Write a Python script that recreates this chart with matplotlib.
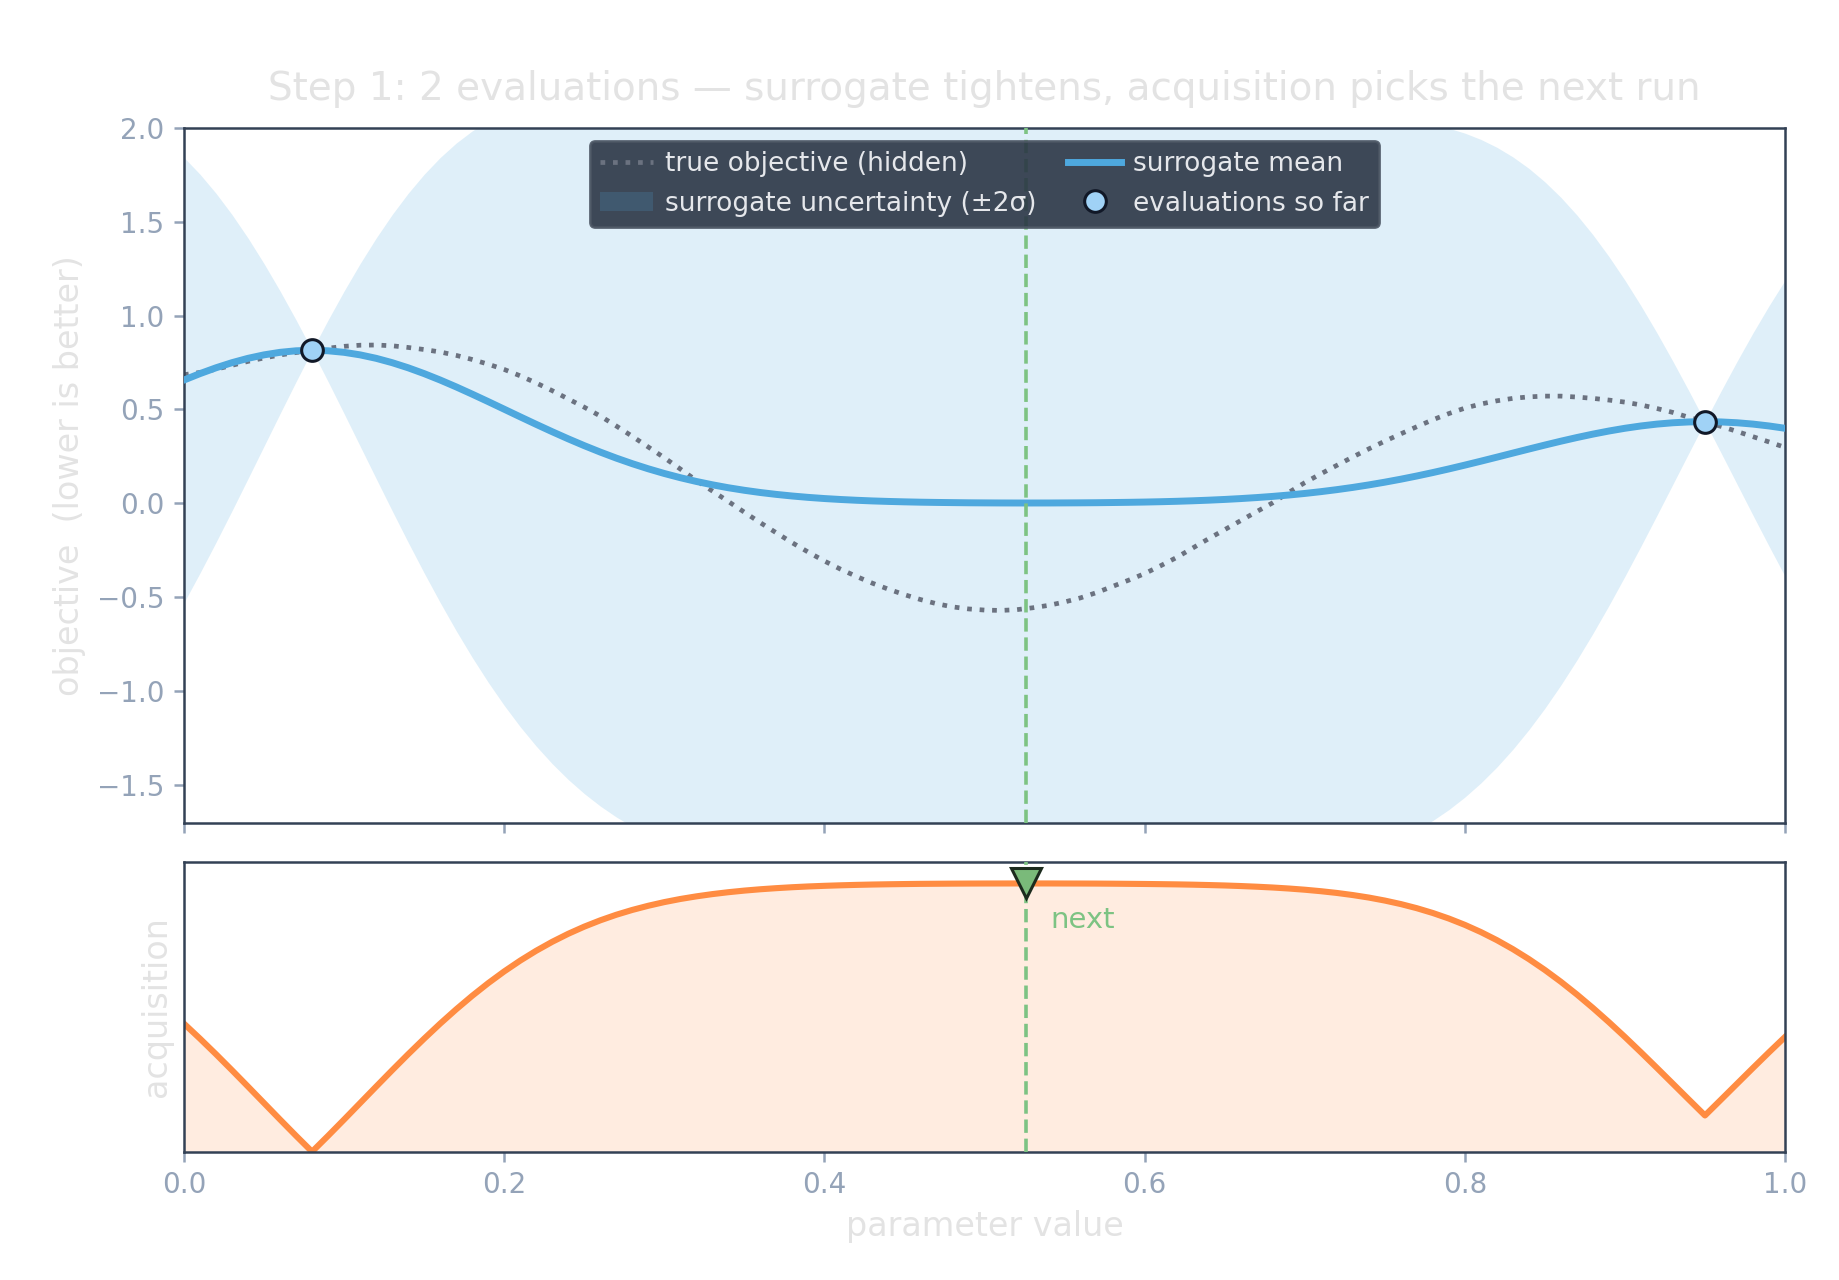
import matplotlib
matplotlib.use("Agg")
import matplotlib.pyplot as plt
import numpy as np

# ---------------- data ----------------
# parameter values (0.00 .. 1.00 in steps of 0.01)
x_grid = [round(0.01 * i, 2) for i in range(101)]

true_objective = [
    0.685, 0.697, 0.714, 0.735, 0.756, 0.774, 0.790, 0.803, 0.815, 0.826,
    0.836, 0.842, 0.843, 0.839, 0.830, 0.819, 0.806, 0.788, 0.766, 0.741,
    0.713, 0.679, 0.641, 0.600, 0.556, 0.512, 0.465, 0.412, 0.357, 0.300,
    0.243, 0.183, 0.122, 0.066, 0.010, -0.047, -0.103, -0.157, -0.210, -0.260,
    -0.307, -0.350, -0.389, -0.425, -0.457, -0.486, -0.512, -0.534, -0.551, -0.562,
    -0.568, -0.570, -0.566, -0.556, -0.543, -0.525, -0.503, -0.475, -0.442, -0.409,
    -0.374, -0.332, -0.288, -0.238, -0.188, -0.140, -0.092, -0.044, 0.003, 0.058,
    0.110, 0.157, 0.202, 0.247, 0.290, 0.331, 0.370, 0.408, 0.445, 0.478,
    0.507, 0.529, 0.546, 0.559, 0.567, 0.571, 0.571, 0.566, 0.559, 0.550,
    0.539, 0.524, 0.505, 0.484, 0.458, 0.433, 0.410, 0.383, 0.355, 0.327,
    0.298]

surrogate_mean = [
    0.6567, 0.6908, 0.7218, 0.7491, 0.7722, 0.7906, 0.8041, 0.8123, 0.8150, 0.8123,
    0.8041, 0.7906, 0.7722, 0.7491, 0.7218, 0.6908, 0.6567, 0.6201, 0.5815, 0.5418,
    0.5013, 0.4607, 0.4206, 0.3814, 0.3435, 0.3073, 0.2731, 0.2410, 0.2113, 0.1840,
    0.1591, 0.1367, 0.1167, 0.0989, 0.0832, 0.0696, 0.0578, 0.0477, 0.0391, 0.0318,
    0.0257, 0.0207, 0.0165, 0.0130, 0.0103, 0.0081, 0.0063, 0.0050, 0.0040, 0.0031,
    0.0026, 0.0022, 0.0020, 0.0020, 0.0021, 0.0025, 0.0029, 0.0035, 0.0045, 0.0056,
    0.0070, 0.0088, 0.0110, 0.0137, 0.0170, 0.0209, 0.0255, 0.0309, 0.0371, 0.0444,
    0.0528, 0.0623, 0.0730, 0.0849, 0.0982, 0.1128, 0.1286, 0.1457, 0.1640, 0.1833,
    0.2036, 0.2245, 0.2459, 0.2676, 0.2892, 0.3104, 0.3310, 0.3505, 0.3687, 0.3852,
    0.3998, 0.4121, 0.4220, 0.4292, 0.4335, 0.4350, 0.4335, 0.4292, 0.4220, 0.4121,
    0.3998]

# half-width of the shaded uncertainty band (2 sigma)
band_halfwidth = [
    1.1845, 1.0613, 0.9289, 0.7881, 0.6399, 0.4856, 0.3264, 0.1641, 0.0000, 0.1641,
    0.3264, 0.4856, 0.6399, 0.7881, 0.9289, 1.0613, 1.1845, 1.2980, 1.4012, 1.4942,
    1.5769, 1.6498, 1.7131, 1.7675, 1.8137, 1.8524, 1.8844, 1.9106, 1.9316, 1.9484,
    1.9615, 1.9717, 1.9794, 1.9852, 1.9895, 1.9927, 1.9950, 1.9966, 1.9977, 1.9985,
    1.9990, 1.9994, 1.9996, 1.9997, 1.9998, 2.0000, 2.0000, 2.0000, 2.0000, 2.0000,
    2.0000, 2.0000, 2.0000, 2.0000, 2.0000, 2.0000, 2.0000, 2.0000, 2.0000, 1.9998,
    1.9997, 1.9996, 1.9994, 1.9990, 1.9985, 1.9977, 1.9966, 1.9950, 1.9927, 1.9895,
    1.9852, 1.9794, 1.9717, 1.9615, 1.9484, 1.9316, 1.9106, 1.8844, 1.8524, 1.8137,
    1.7675, 1.7131, 1.6498, 1.5769, 1.4942, 1.4012, 1.2980, 1.1845, 1.0613, 0.9289,
    0.7881, 0.6399, 0.4856, 0.3264, 0.1641, 0.0000, 0.1641, 0.3264, 0.4856, 0.6399,
    0.7881]

acquisition = [
    0.4774, 0.4214, 0.3634, 0.3036, 0.2427, 0.1813, 0.1199, 0.0593, 0.0000, 0.0593,
    0.1199, 0.1813, 0.2427, 0.3036, 0.3634, 0.4214, 0.4774, 0.5307, 0.5811, 0.6283,
    0.6721, 0.7124, 0.7492, 0.7825, 0.8124, 0.8390, 0.8625, 0.8833, 0.9013, 0.9169,
    0.9305, 0.9421, 0.9519, 0.9603, 0.9674, 0.9734, 0.9784, 0.9825, 0.9860, 0.9889,
    0.9912, 0.9931, 0.9947, 0.9960, 0.9970, 0.9978, 0.9985, 0.9989, 0.9993, 0.9996,
    0.9998, 0.9999, 1.0000, 1.0000, 1.0000, 0.9998, 0.9997, 0.9995, 0.9991, 0.9986,
    0.9981, 0.9974, 0.9966, 0.9955, 0.9941, 0.9925, 0.9904, 0.9879, 0.9849, 0.9812,
    0.9767, 0.9712, 0.9647, 0.9568, 0.9475, 0.9363, 0.9232, 0.9078, 0.8899, 0.8693,
    0.8457, 0.8189, 0.7888, 0.7552, 0.7181, 0.6775, 0.6335, 0.5862, 0.5359, 0.4830,
    0.4278, 0.3707, 0.3123, 0.2532, 0.1940, 0.1351, 0.1940, 0.2532, 0.3123, 0.3707,
    0.4278]

eval_x = [0.08, 0.95]
eval_y = [0.815, 0.435]

next_x = 0.526
next_acq = 1.0

x_ticks = [0.0, 0.2, 0.4, 0.6, 0.8, 1.0]
y_ticks = [-1.5, -1.0, -0.5, 0.0, 0.5, 1.0, 1.5, 2.0]

title_text = "Step 1: 2 evaluations \u2014 surrogate tightens, acquisition picks the next run"

# ---------------- styling ----------------
C_TRUE = "#6b7280"
C_MEAN = "#4ea8de"
C_PT = "#a0d2f6"
C_PT_EDGE = "#111827"
C_ACQ = "#ff8c42"
C_NEXT = "#7dc383"
C_SPINE = "#334155"
C_TICK = "#94a3b8"
C_TITLE = "#e3e3e3"

plt.rcParams["font.family"] = ["DejaVu Sans"]

fig = plt.figure(figsize=(9.195, 6.4), dpi=200)
ax = fig.add_axes([0.10005, 0.35727, 0.8706, 0.54297])
ax2 = fig.add_axes([0.10005, 0.10023, 0.8706, 0.22633], sharex=ax)

xa = np.array(x_grid)
mu = np.array(surrogate_mean)
hw = np.array(band_halfwidth)

ax.fill_between(xa, mu - hw, mu + hw, color=C_MEAN, alpha=0.18, linewidth=0,
                label="surrogate uncertainty (\u00b12\u03c3)", zorder=1)
ax.plot(xa, true_objective, linestyle=":", color=C_TRUE, linewidth=1.7,
        label="true objective (hidden)", zorder=2)
ax.plot(xa, mu, color=C_MEAN, linewidth=2.5, label="surrogate mean", zorder=3)
ax.plot(eval_x, eval_y, linestyle="none", marker="o", markersize=7.8,
        markerfacecolor=C_PT, markeredgecolor=C_PT_EDGE, markeredgewidth=1.1,
        label="evaluations so far", zorder=5)
ax.axvline(next_x, color=C_NEXT, linestyle="--", linewidth=1.3, zorder=4)

ax.set_xlim(0, 1)
ax.set_ylim(-1.7, 2.0)
ax.set_yticks(y_ticks)
ax.set_xticks(x_ticks)
ax.tick_params(axis="x", labelbottom=False)
ax.set_ylabel("objective  (lower is better)", color=C_TITLE, fontsize=12)
ax.set_title(title_text, color=C_TITLE, fontsize=14, pad=10)

h, l = ax.get_legend_handles_labels()
order = [l.index("true objective (hidden)"), l.index("surrogate uncertainty (\u00b12\u03c3)"),
         l.index("surrogate mean"), l.index("evaluations so far")]
leg = ax.legend([h[i] for i in order], [l[i] for i in order], loc="upper center", ncol=2,
                fontsize=9.5, facecolor="#2b3645", edgecolor="#4b5563", framealpha=0.9,
                labelcolor="#e5e7eb", handletextpad=0.45, columnspacing=1.2)
leg.set_zorder(10)

# acquisition panel
ax2.fill_between(xa, 0, acquisition, color=C_ACQ, alpha=0.16, linewidth=0, zorder=1)
ax2.plot(xa, acquisition, color=C_ACQ, linewidth=2.2, zorder=2)
ax2.axvline(next_x, color=C_NEXT, linestyle="--", linewidth=1.3, zorder=3)
ax2.plot([next_x], [next_acq], marker="v", markersize=10.5, color="#7aba7a",
         markeredgecolor="#1c2b1e", markeredgewidth=1.1, linestyle="none", zorder=5)
ax2.text(next_x + 0.015, 0.864, "next", color=C_NEXT, fontsize=10.5, ha="left", va="center")
ax2.set_ylim(0, 1.08)
ax2.set_yticks([])
ax2.set_xlim(0, 1)
ax2.set_xticks(x_ticks)
ax2.set_ylabel("acquisition", color=C_TITLE, fontsize=12)
ax2.set_xlabel("parameter value", color=C_TITLE, fontsize=12)

for a in (ax, ax2):
    for s in a.spines.values():
        s.set_color(C_SPINE)
        s.set_linewidth(0.9)
    a.tick_params(colors=C_TICK, labelcolor=C_TICK, labelsize=10, width=0.9)

fig.savefig("out.png", dpi=200, facecolor="white")
